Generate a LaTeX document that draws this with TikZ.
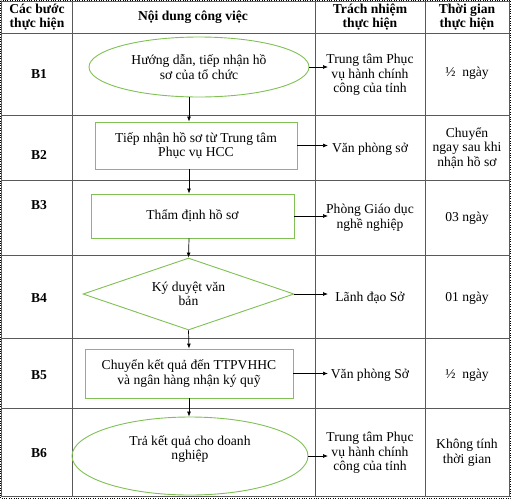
\documentclass[tikz,border=0pt]{standalone}
\usepackage{fontspec}
\setmainfont{Liberation Serif}
\usetikzlibrary{arrows.meta,shapes.geometric}
\definecolor{stepgreen}{RGB}{128,192,84}

\begin{document}
\begin{tikzpicture}[x=1pt, y=-1pt,
  font=\fontsize{13.6}{14.6}\selectfont,
  grid/.style={draw=black!65, line width=0.8pt},
  stp/.style={draw=stepgreen, line width=0.9pt, align=center, inner sep=0pt},
  boxstep/.style={stp, rectangle},
  oval/.style={stp, ellipse},
  rhomb/.style={stp, diamond, aspect=3},
  txt/.style={align=center, inner sep=0pt},
  hd/.style={txt, font=\fontsize{13.6}{14.6}\selectfont\bfseries},
  fl/.style={-{Latex[length=5pt,width=4pt]}, line width=0.7pt}]
\useasboundingbox (0,0) rectangle (511,499);

% the table
\foreach \x in {72,315,425}{\draw[grid] (\x,1) -- (\x,496);}
\foreach \y in {33,115,180,255,338,408}{\draw[grid] (1,\y) -- (509,\y);}
\draw[grid] (1,1) rectangle (509,496);
\draw[dotted] (0.5,0.5) rectangle (510.5,498.5);

% header row
\node[hd] (h1) at (37,17) {Các bước\\thực hiện};
\node[hd] (h2) at (193,17) {Nội dung công việc};
\node[hd] (h3) at (370,17) {Trách nhiệm\\thực hiện};
\node[hd] (h4) at (467,17) {Thời gian\\thực hiện};

% step labels
\node[hd] (b1) at (39,74) {B1};
\node[hd] (b2) at (39,155) {B2};
\node[hd] (b3) at (39,205) {B3};
\node[hd] (b4) at (39,298) {B4};
\node[hd] (b5) at (39,375) {B5};
\node[hd] (b6) at (39,453) {B6};

% the flow
\node[oval, minimum width=220, minimum height=60] (s1) at (199,67)
  {Hướng dẫn, tiếp nhận hồ\\sơ của tổ chức};
\node[boxstep, minimum width=202, minimum height=47] (s2) at (196,145.5)
  {Tiếp nhận hồ sơ từ Trung tâm\\Phục vụ HCC};
\node[boxstep, minimum width=203, minimum height=44] (s3) at (192.5,216)
  {Thẩm định hồ sơ};
\node[rhomb, minimum width=211, minimum height=72] (s4) at (188.5,294)
  {Ký duyệt văn\\bản};
\node[boxstep, minimum width=208, minimum height=49] (s5) at (189,373.5)
  {Chuyển kết quả đến TTPVHHC\\và ngân hàng nhận ký quỹ};
\node[oval, minimum width=236, minimum height=78] (s6) at (190,456) {};
\node[txt] (s6txt) at (190,449) {Trả kết quả cho doanh\\nghiệp};

% who is responsible
\node[txt] (r1) at (370,75) {Trung tâm Phục\\vụ hành chính\\công của tỉnh};
\node[txt] (r2) at (370,149) {Văn phòng sở};
\node[txt] (r3) at (370,218) {Phòng Giáo dục\\nghề nghiệp};
\node[txt] (r4) at (370,298) {Lãnh đạo Sở};
\node[txt] (r5) at (370,375) {Văn phòng Sở};
\node[txt] (r6) at (370,453) {Trung tâm Phục\\vụ hành chính\\công của tỉnh};

% how long
\node[txt] (t1) at (467,73) {½\enspace ngày};
\node[txt] (t2) at (467,148) {Chuyển\\ngay sau khi\\nhận hồ sơ};
\node[txt] (t3) at (467,218) {03 ngày};
\node[txt] (t4) at (467,298) {01 ngày};
\node[txt] (t5) at (467,375) {½\enspace ngày};
\node[txt] (t6) at (467,453) {Không tính\\thời gian};

% connectors
\coordinate (mid) at (189,0);
\coordinate (ax) at (328,0);
\draw[fl] (s1.south -| mid) -- (s2.north -| mid);
\draw[fl] (s2.south -| mid) -- (s3.north -| mid);
\draw[fl] (s3.south -| mid) -- (s4.north);
\draw[fl] (s4.south) -- (s5.north -| mid);
\draw[fl] (s5.south -| mid) -- (s6.north -| mid);
\foreach \i in {1,...,6}{\draw[fl] (s\i.east) -- (s\i.east -| ax);}
\end{tikzpicture}
\end{document}
